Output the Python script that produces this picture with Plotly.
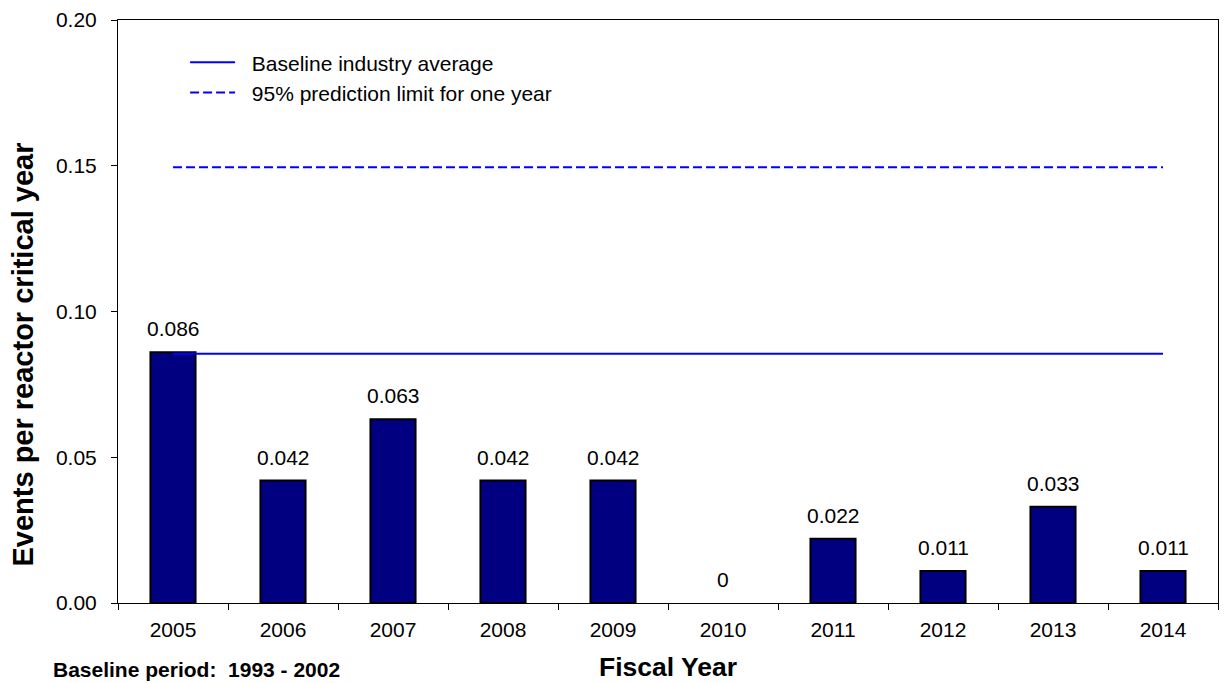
import plotly.graph_objects as go

years = ["2005", "2006", "2007", "2008", "2009", "2010", "2011", "2012", "2013", "2014"]
rates = [0.086, 0.042, 0.063, 0.042, 0.042, 0.0, 0.022, 0.011, 0.033, 0.011]
rate_labels = ["0.086", "0.042", "0.063", "0.042", "0.042", "0", "0.022", "0.011", "0.033", "0.011"]
baseline_avg = 0.0855
prediction_limit = 0.1495

FONT = "Liberation Sans, Arial, sans-serif"
PAD = "\u00a0\u00a0"

fig = go.Figure()

# zero-valued years get no outline so nothing is drawn on the axis
outline_widths = [2 if v > 0 else 0 for v in rates]

fig.add_trace(go.Bar(
    x=years, y=rates, width=0.41,
    marker=dict(color="#000080", line=dict(color="black", width=outline_widths)),
    showlegend=False, hoverinfo="x+y",
))

fig.add_trace(go.Scatter(
    x=[years[0], years[-1]], y=[baseline_avg, baseline_avg],
    mode="lines", line=dict(color="#0000FF", width=2),
    name=PAD + "Baseline industry average",
))
fig.add_trace(go.Scatter(
    x=[years[0], years[-1]], y=[prediction_limit, prediction_limit],
    mode="lines", line=dict(color="#0000FF", width=2, dash="9px,4px"),
    name=PAD + "95% prediction limit for one year",
))

# value labels above each bar (category axis: x is the category index)
for i, (v, lab) in enumerate(zip(rates, rate_labels)):
    fig.add_annotation(
        x=i, y=v, text=lab, showarrow=False, yanchor="bottom", yshift=10,
        font=dict(family=FONT, size=21, color="black"),
    )

# axis titles and footnote
fig.add_annotation(
    xref="paper", yref="paper", x=-0.0868, y=0.4254, xanchor="center", yanchor="middle",
    text="<b>Events per reactor critical year</b>", textangle=-90, showarrow=False,
    font=dict(family=FONT, size=29, color="black"),
)
fig.add_annotation(
    xref="paper", yref="paper", x=0.5, y=-0.1098, xanchor="center", yanchor="middle",
    text="<b>Fiscal Year</b>", showarrow=False,
    font=dict(family=FONT, size=26.5, color="black"),
)
fig.add_annotation(
    xref="paper", yref="paper", x=-0.0605, y=-0.1145, xanchor="left", yanchor="middle",
    text="<b>Baseline period:  1993 - 2002</b>", showarrow=False,
    font=dict(family=FONT, size=21, color="black"),
)

fig.update_layout(
    width=1224, height=683,
    margin=dict(l=118, r=6, t=20, b=80),
    plot_bgcolor="white", paper_bgcolor="white",
    font=dict(family=FONT, size=21, color="black"),
    legend=dict(
        x=0.061, y=0.962, xanchor="left", yanchor="top",
        bgcolor="rgba(0,0,0,0)", font=dict(size=21), tracegroupgap=0,
        itemwidth=45,
    ),
)

fig.update_xaxes(
    type="category", tickson="boundaries", range=[-0.5, 9.5],
    showline=True, linecolor="black", linewidth=1, mirror=True,
    ticks="outside", ticklen=6, tickcolor="black", tickangle=0,
    ticklabelstandoff=8,
    showgrid=False,
    tickfont=dict(size=21),
)
fig.update_yaxes(
    range=[0, 0.2], tickvals=[0, 0.05, 0.1, 0.15, 0.2], tickformat=".2f",
    showline=True, linecolor="black", linewidth=1, mirror=True,
    ticks="outside", ticklen=6, tickcolor="black",
    ticklabelstandoff=10,
    showgrid=False, zeroline=False,
    tickfont=dict(size=21),
)

fig.write_html("out.html")
